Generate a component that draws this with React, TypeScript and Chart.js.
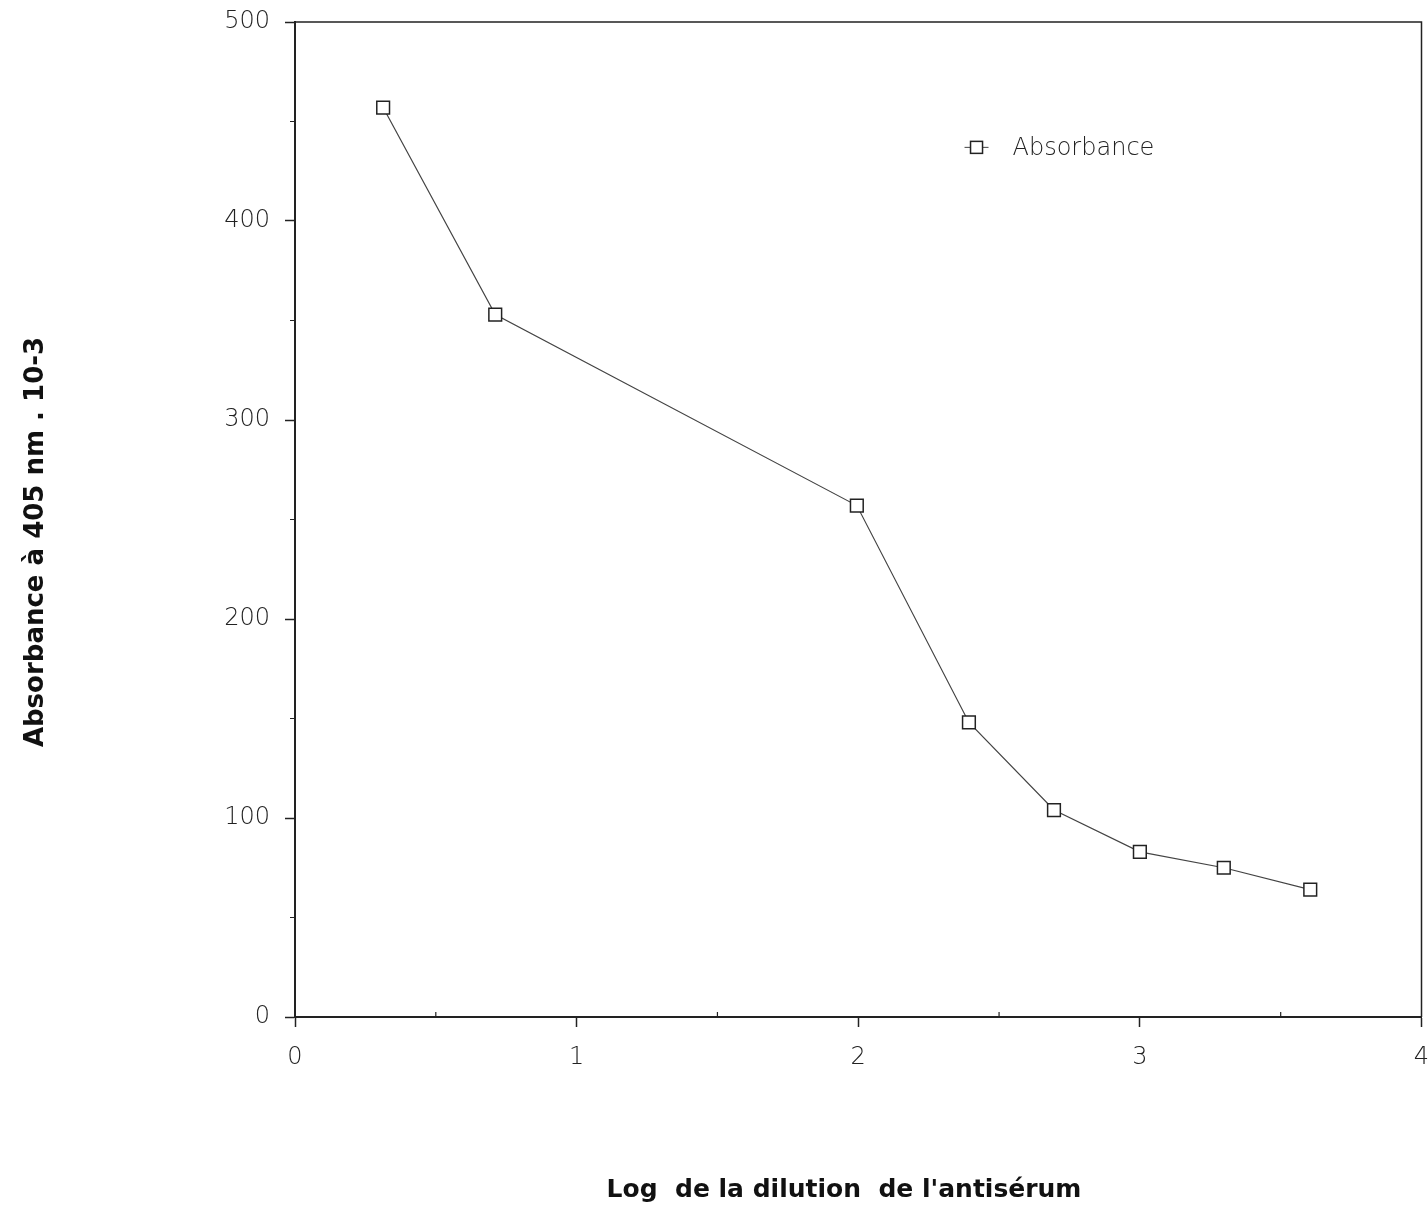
import React, { useEffect, useRef } from "react";
import { Chart, registerables } from "chart.js";

Chart.register(...registerables);

const logDilution = [0.313, 0.711, 1.995, 2.393, 2.695, 3.0, 3.298, 3.605];
const absorbance = [457, 353, 257, 148, 104, 83, 75, 64];
const seriesLabel = "Absorbance";
const xTitle = "Log  de la dilution  de l'antisérum";
const yTitle = "Absorbance à 405 nm . 10-3";
const xMinorTicks = [0.5, 1.5, 2.5, 3.5];
const yMinorTicks = [50, 150, 250, 350, 450];

const INK = "#222";
const TICK_FONT = { family: "'DejaVu Sans'", size: 24, weight: "200" as any };
const CANVAS_W = 1432;

const framePlugin = {
  id: "frameAndMinor",
  afterDraw(chart: any) {
    const { ctx, chartArea, scales } = chart;
    const xs = scales.x;
    const ys = scales.y;
    ctx.save();
    ctx.strokeStyle = INK;
    ctx.lineWidth = 1.5;
    ctx.beginPath();
    ctx.moveTo(chartArea.left, chartArea.top);
    ctx.lineTo(chartArea.right, chartArea.top);
    ctx.lineTo(chartArea.right, chartArea.bottom);
    ctx.stroke();
    // minor ticks
    ctx.lineWidth = 1.2;
    ctx.beginPath();
    for (const v of xMinorTicks) {
      const px = xs.getPixelForValue(v);
      ctx.moveTo(px, chartArea.bottom);
      ctx.lineTo(px, chartArea.bottom - 5);
    }
    for (const v of yMinorTicks) {
      const py = ys.getPixelForValue(v);
      ctx.moveTo(chartArea.left, py);
      ctx.lineTo(chartArea.left - 5, py);
    }
    ctx.stroke();
    // legend
    const lx = xs.getPixelForValue(2.42);
    const ly = ys.getPixelForValue(437);
    ctx.lineWidth = 1;
    ctx.strokeStyle = "#444";
    ctx.beginPath();
    ctx.moveTo(lx - 12, ly);
    ctx.lineTo(lx + 12, ly);
    ctx.stroke();
    ctx.fillStyle = "#fff";
    ctx.lineWidth = 1.5;
    ctx.strokeStyle = INK;
    ctx.fillRect(lx - 6, ly - 6, 12, 12);
    ctx.strokeRect(lx - 6, ly - 6, 12, 12);
    ctx.fillStyle = INK;
    ctx.font = "200 24px 'DejaVu Sans'";
    ctx.textBaseline = "middle";
    ctx.textAlign = "left";
    ctx.fillText(seriesLabel, lx + 36, ly + 1);
    // axis titles
    ctx.fillStyle = "#111";
    ctx.font = "bold 25px 'DejaVu Sans'";
    ctx.textAlign = "center";
    ctx.fillText(xTitle, 844, 1190);
    ctx.save();
    ctx.translate(36, 542);
    ctx.rotate(-Math.PI / 2);
    ctx.font = "bold 26px 'DejaVu Sans'";
    ctx.fillText(yTitle, 0, 0);
    ctx.restore();
    ctx.restore();
  },
};

export default function App() {
  const ref = useRef<HTMLCanvasElement>(null);
  useEffect(() => {
    document.body.style.margin = "0";
    document.body.style.overflow = "hidden";
    const chart = new Chart(ref.current!, {
      type: "line",
      data: {
        datasets: [
          {
            label: seriesLabel,
            data: logDilution.map((x, i) => ({ x, y: absorbance[i] })),
            borderColor: "#444",
            borderWidth: 1.2,
            pointStyle: "rect",
            pointRadius: 9,
            pointBorderWidth: 1.5,
            pointBorderColor: INK,
            pointBackgroundColor: "#fff",
            tension: 0,
          },
        ],
      },
      plugins: [framePlugin],
      options: {
        animation: false,
        responsive: false,
        layout: { padding: { left: 0, top: 22, right: 3, bottom: 0 } },
        plugins: { legend: { display: false }, tooltip: { enabled: false } },
        scales: {
          x: {
            type: "linear",
            min: 0,
            max: 4,
            afterFit: (s: any) => {
              s.height = 188;
              s.paddingLeft = 0;
              s.paddingRight = 0;
            },
            ticks: {
              stepSize: 1,
              color: INK,
              padding: 16,
              font: TICK_FONT,
            },
            grid: {
              drawOnChartArea: false,
              tickLength: 10,
              tickColor: INK,
              tickWidth: 1.5,
            },
            border: { display: true, color: INK, width: 2 },
          },
          y: {
            type: "linear",
            min: 0,
            max: 500,
            afterFit: (s: any) => {
              s.width = 295;
              s.paddingTop = 0;
              s.paddingBottom = 0;
            },
            ticks: {
              stepSize: 100,
              color: INK,
              padding: 15,
              font: TICK_FONT,
            },
            grid: {
              drawOnChartArea: false,
              tickLength: 10,
              tickColor: INK,
              tickWidth: 1.5,
            },
            border: { display: true, color: INK, width: 2 },
          },
        },
      },
    });
    return () => chart.destroy();
  }, []);
  return (
    <div style={{ position: "absolute", left: 0, top: 0, width: 1428, height: 1205, overflow: "hidden", background: "#fff" }}>
      <canvas ref={ref} width={CANVAS_W} height={1205} style={{ width: CANVAS_W, height: 1205 }} />
    </div>
  );
}
